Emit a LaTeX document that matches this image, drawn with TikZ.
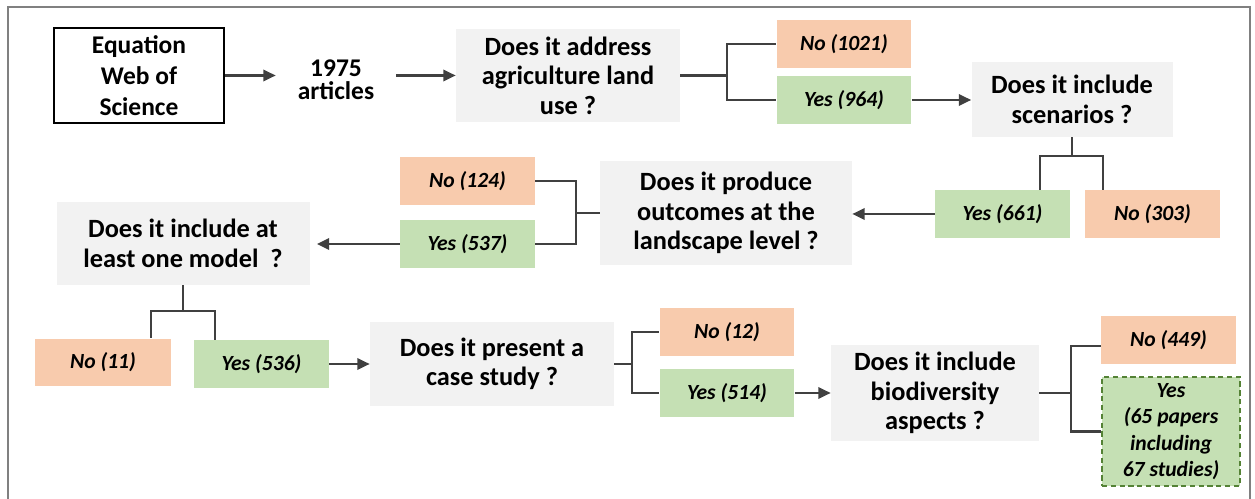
\documentclass[tikz,border=0pt]{standalone}
\usepackage{fontspec}
\setmainfont{Carlito}
\usetikzlibrary{arrows.meta}
\definecolor{qgray}{HTML}{F2F2F2}
\definecolor{nofill}{HTML}{F8CBAD}
\definecolor{yesfill}{HTML}{C5E0B4}
\definecolor{yesdash}{HTML}{548235}
\definecolor{linegray}{HTML}{404040}
\tikzset{
  ques/.style 2 args={fill=qgray, align=center, inner sep=0pt,
    minimum width=#1*0.02cm, minimum height=#2*0.02cm,
    font=\bfseries\fontsize{15}{16.8}\selectfont},
  ans/.style={align=center, inner sep=0pt, minimum width=2.7cm,
    minimum height=0.96cm, font=\bfseries\itshape\fontsize{12.3}{15}\selectfont},
  nobox/.style={ans, fill=nofill},
  yesbox/.style={ans, fill=yesfill},
  arr/.style={-{Triangle[length=7pt,width=6.5pt]}, linegray, line width=1.2pt},
  link/.style={linegray, line width=1.2pt},
}
\begin{document}
\begin{tikzpicture}[x=0.02cm, y=-0.02cm]
  \useasboundingbox (0,0) rectangle (1255,499);
  \draw [gray, line width=0.6pt] (8,499) -- (8,7) -- (1250,7) -- (1250,499);
  % first row
  \node [draw, line width=1.1pt, minimum width=3.4cm, minimum height=1.9cm, align=center,
    inner sep=0pt, font=\bfseries\fontsize{14.5}{17.5}\selectfont] (src) at (139,75.5) {Equation\\Web of\\Science};
  \node [align=center, inner sep=0pt, minimum width=2.4cm,
    font=\bfseries\fontsize{14.5}{13}\selectfont] (art) at (336,80) {1975\\articles};
  \node [ques={224}{93}] (q1) at (568,75.5) {Does it address\\agriculture land\\use ?};
  \node [nobox] (no1) at (844,44) {No (1021)};
  \node [yesbox] (yes1) at (844,100) {Yes (964)};
  \node [ques={201}{75}] (q2) at (1072,99.5) {Does it include\\scenarios ?};
  % second row
  \node [yesbox] (yes2) at (1002.5,214) {Yes (661)};
  \node [nobox] (no2) at (1152.5,214) {No (303)};
  \node [ques={252}{104}] (q3) at (726,213) {Does it produce\\outcomes at the\\landscape level ?};
  \node [nobox] (no3) at (467.5,181) {No (124)};
  \node [yesbox] (yes3) at (467.5,244) {Yes (537)};
  \node [ques={253}{83}] (q4) at (183,243.5) {Does it include at\\least one model\ \ ?};
  % third row
  \node [nobox, minimum width=2.72cm] (no4) at (103,362.5) {No (11)};
  \node [yesbox] (yes4) at (261.5,364) {Yes (536)};
  \node [ques={244}{84}] (q5) at (492,364) {Does it present a\\case study ?};
  \node [nobox] (no5) at (727,332) {No (12)};
  \node [yesbox] (yes5) at (727,393) {Yes (514)};
  \node [ques={208}{96}] (q6) at (935,393) {Does it include\\biodiversity\\aspects ?};
  \node [nobox] (no6) at (1168.5,340) {No (449)};
  \node [yesbox, draw=yesdash, line width=0.9pt, dash pattern=on 3pt off 2pt,
    minimum width=2.76cm, minimum height=2.18cm] (yes6) at (1171,431.5) {Yes\\(65 papers\\including\\67 studies)};

  \draw [arr] (src.east) -- (src.east -| art.west);
  \draw [arr] (art.east |- q1.west) -- (q1.west);
  \draw [arr] (yes1) -- (yes1 -| q2.west);
  \draw [arr] (yes2) -- (yes2 -| q3.east);
  \draw [arr] (yes3) -- ([xshift=4pt]yes3 -| q4.east);
  \draw [arr] (yes4) -- (yes4 -| q5.west);
  \draw [arr] (yes5) -- (yes5 -| q6.west);

  \draw [link] (q1.east) -- ++(47,0) coordinate (b1);
  \draw [link] (b1) |- (no1);
  \draw [link] (b1) |- (yes1);
  \draw [link] (q2.south) -- ++(0,19) coordinate (b2);
  \draw [link] (b2) -- ++(-32,0) coordinate (b2l) -- (b2l |- yes2.north);
  \draw [link] (b2) -- ++(31,0) coordinate (b2r) -- (b2r |- no2.north);
  \draw [link] (q3.west) -- ++(-24,0) coordinate (b3);
  \draw [link] (b3) |- (no3);
  \draw [link] (b3) |- (yes3);
  \draw [link] (q4.south) -- ++(0,26) coordinate (b4);
  \draw [link] (b4) -- ++(-32,0) coordinate (b4l) -- (b4l |- no4.north);
  \draw [link] (b4) -- ++(32,0) coordinate (b4r) -- (b4r |- yes4.north);
  \draw [link] (q5.east) -- ++(18,0) coordinate (b5);
  \draw [link] (b5) |- (no5);
  \draw [link] (b5) |- (yes5);
  \draw [link] (q6.east) -- ++(32,0) coordinate (b6);
  \draw [link] (b6) |- ([yshift=-3.4pt]no6.west);
  \draw [link] (b6) |- (yes6);
\end{tikzpicture}
\end{document}
